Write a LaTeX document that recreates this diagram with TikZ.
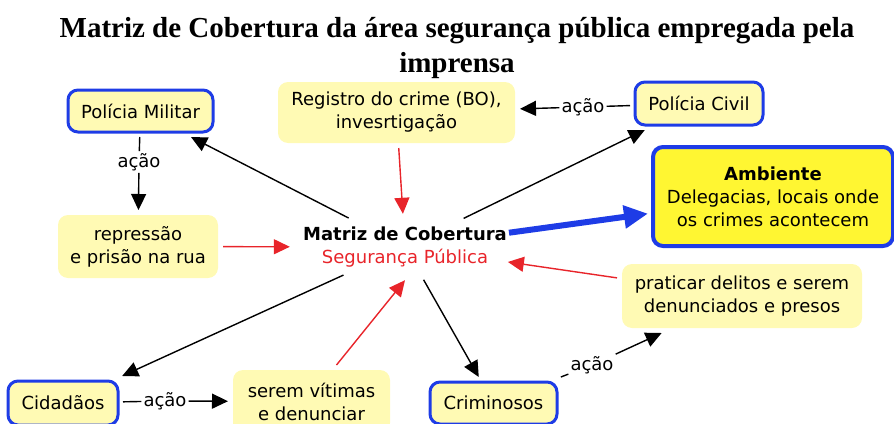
\documentclass[tikz,border=0pt]{standalone}
\usepackage{fontspec}
\setmainfont{DejaVu Sans}
\newfontfamily\titlefont{Liberation Serif}
\usepackage{xcolor}
\usetikzlibrary{arrows.meta,shapes.geometric,positioning}

\definecolor{boxyellow}{RGB}{255,250,180}
\definecolor{ambyellow}{RGB}{255,246,50}
\definecolor{mapblue}{RGB}{30,60,230}
\definecolor{mapred}{RGB}{232,36,42}

\begin{document}
\begin{tikzpicture}[x=1pt,y=-1pt,
		font=\fontsize{18}{23}\selectfont,
		topic/.style={draw=mapblue, line width=3pt, rounded corners=10pt, fill=boxyellow, inner sep=0pt, outer sep=5pt, align=center},
		note/.style={fill=boxyellow, rounded corners=10pt, inner sep=0pt, outer sep=5pt, align=center},
		link/.style={inner sep=2pt},
		hub/.style={ellipse, minimum width=230pt, minimum height=66pt, inner sep=0pt},
		plain/.style={line width=1.4pt},
		blackarr/.style={line width=1.4pt, -{Triangle[length=16pt,width=15pt]}},
		redarr/.style={blackarr, draw=mapred},
		bluearr/.style={line width=6pt, draw=mapblue, -{Triangle[length=24pt,width=22pt]}}]
		\useasboundingbox (0,0) rectangle (894,423);
		\clip (0,0) rectangle (894,423);

		\node[font=\titlefont\bfseries\fontsize{29}{35}\selectfont, align=center] (title) at (457,48) {Matriz de Cobertura da área segurança pública empregada pela\\imprensa};

		% boxes
		\node[topic, minimum width=145pt, minimum height=42pt] (pm) at (140.5,111) {Polícia Militar};
		\node[note, minimum width=237pt, minimum height=61pt] (reg) at (396.5,112.5) {Registro do crime (BO),\\invesrtigação};
		\node[topic, minimum width=128pt, minimum height=43pt] (pc) at (699,103.5) {Polícia Civil};
		\node[topic, line width=4pt, fill=ambyellow, minimum width=240pt, minimum height=99pt] (amb) at (773,196.5) {\textbf{Ambiente}\\Delegacias, locais onde\\os crimes acontecem};
		\node[note, minimum width=160pt, minimum height=63pt] (rep) at (138,246.5) {repressão\\e prisão na rua};
		\node[hub] (matriz) at (405,247) {};
		\node[align=center] (matriztxt) at (matriz) {\textbf{Matriz de Cobertura}\\\textcolor{mapred}{Segurança Pública}};
		\node[note, minimum width=240pt, minimum height=64pt] (prat) at (742,296) {praticar delitos e serem\\denunciados e presos};
		\node[topic, minimum width=110pt, minimum height=44pt] (cid) at (63,403) {Cidadãos};
		\node[note, minimum width=157pt, minimum height=63pt] (serem) at (311.5,401.5) {serem vítimas\\e denunciar};
		\node[topic, minimum width=127pt, minimum height=42pt] (crim) at (493.5,403) {Criminosos};

		% link words
		\node[link] (acaoA) at (139,162) {ação};
		\node[link] (acaoB) at (583,107) {ação};
		\node[link] (acaoC) at (592,365) {ação};
		\node[link] (acaoD) at (165,401) {ação};

		\draw[plain] (pm) -- (acaoA);
		\draw[blackarr] (acaoA) -- (rep);
		\draw[plain] (pc) -- (acaoB);
		\draw[blackarr] (acaoB) -- (reg);
		\draw[plain] (crim) -- (acaoC);
		\draw[blackarr] (acaoC) -- (prat);
		\draw[plain] (cid) -- (acaoD);
		\draw[blackarr] (acaoD) -- (serem);

		\draw[blackarr] (matriz) -- (pm);
		\draw[blackarr] (matriz) -- (pc);
		\draw[blackarr] (matriz) -- (crim);
		\draw[blackarr] (matriz) -- (cid);
		\draw[bluearr] (matriz) -- (amb);
		\draw[redarr] (rep) -- (matriz);
		\draw[redarr] (reg) -- (matriz);
		\draw[redarr] (prat) -- (matriz);
		\draw[redarr] ([xshift=25pt]serem.north) -- (matriz.south);
	\end{tikzpicture}
\end{document}
